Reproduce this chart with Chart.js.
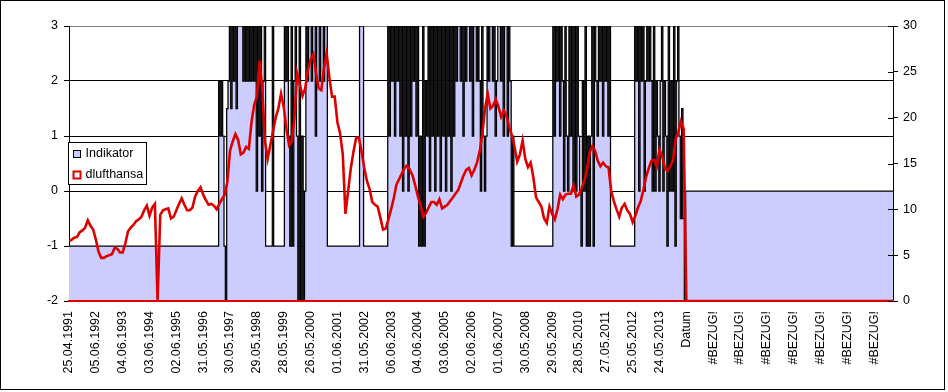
<!DOCTYPE html>
<html>
<head>
<meta charset="utf-8">
<script src="https://cdn.jsdelivr.net/npm/chart.js@4.4.1/dist/chart.umd.min.js"></script>
<style>
  html, body { margin: 0; padding: 0; background: #fff; }
  #wrap { width: 948px; height: 392px; }
</style>
</head>
<body>
<div id="wrap"><canvas id="chart" width="948" height="392"></canvas></div>
<script>
// Kategorie-Beschriftung (jede 10. Zeile)
const xLabels = [
  '25.04.1991', '05.06.1992', '04.06.1993', '03.06.1994', '02.06.1995', '31.05.1996',
  '30.05.1997', '29.05.1998', '28.05.1999', '26.05.2000', '01.06.2001', '31.05.2002',
  '06.06.2003', '04.06.2004', '03.06.2005', '02.06.2006', '01.06.2007', '30.05.2008',
  '29.05.2009', '28.05.2010', '27.05.2011', '25.05.2012', '24.05.2013', 'Datum',
  '#BEZUG!', '#BEZUG!', '#BEZUG!', '#BEZUG!', '#BEZUG!', '#BEZUG!', '#BEZUG!'
];

// Indikator (linke Achse), zwei Werte je Zeile
const indikator = [
  -1, -1, -1, -1, -1, -1, -1, -1, -1, -1,
  -1, -1, -1, -1, -1, -1, -1, -1, -1, -1,
  -1, -1, -1, -1, -1, -1, -1, -1, -1, -1,
  -1, -1, -1, -1, -1, -1, -1, -1, -1, -1,
  -1, -1, -1, -1, -1, -1, -1, -1, -1, -1,
  -1, -1, -1, -1, -1, -1, -1, -1, -1, -1,
  -1, -1, -1, -1, -1, -1, -1, -1, -1, -1,
  -1, -1, -1, -1, -1, -1, -1, -1, -1, -1,
  -1, -1, -1, -1, -1, -1, -1, -1, -1, -1,
  -1, -1, -1, -1, -1, -1, -1, -1, -1, -1,
  -1, -1, -1, -1, -1, -1, -1, -1, -1, -1,
  -1, -1, 2, 1, 2, 1, -1, -2, 1.5, 2,
  3, 1.5, 3, 2, 3, 1.5, 3, 3, 3, 3,
  2, 3, 2, 3, 2, 3, 2, 3, 2, 3,
  0, 3, 1, 3, 0, 2, 3, -1, -1, -1,
  -1, -1, 3, -1, -1, -1, -1, -1, -1, -1,
  -1, 3, 2, 3, 1, -1, 3, -1, 2, 3,
  1, -2, 3, -2, 1, -2, 0, 3, 2, 3,
  3, 2, 3, 3, 1, 3, 3, 2, 3, 3,
  2, 3, 3, -1, -1, -1, -1, -1, -1, -1,
  -1, -1, -1, -1, -1, -1, -1, -1, -1, -1,
  -1, -1, -1, -1, -1, -1, -1, 3, 3, 3,
  -1, -1, -1, -1, -1, -1, -1, -1, -1, -1,
  -1, -1, -1, -1, -1, -1, -1, -1, 3, 1,
  3, 2, 3, 1, 3, 2, 3, 1, 3, 0,
  3, 1, 3, 0, 3, 1, 3, 2, 3, 1,
  3, -1, 1, -1, 3, -1, 2, 1, 3, 0,
  3, 1, 3, 0, 3, 1, 3, 0, 3, 1,
  3, 0, 3, 1, 3, 0, 3, 1, 3, 2,
  3, 3, 2, 3, 1, 3, 2, 3, 3, 2,
  3, 1, 3, 3, 2, 3, 2, 0, 3, 1,
  0, 1, 3, 2, 3, 3, 2, 3, 1, 2,
  3, 3, 2, 3, 1, 3, 3, 1, 3, 2,
  -1, 1, -1, -1, -1, -1, -1, -1, -1, -1,
  -1, -1, -1, -1, -1, -1, -1, -1, -1, -1,
  -1, -1, -1, -1, -1, -1, -1, -1, -1, -1,
  -1, 3, 1, 3, 2, 3, 1, 3, 2, 0,
  3, 1, 0, 3, 1, 3, 0, 3, 0, 3,
  1, 0, -1, 2, 0, 3, -1, 1, -1, 1,
  3, -1, 3, 2, 1, 3, 2, 3, 1, 3,
  2, 3, 1, 3, -1, -1, -1, -1, -1, -1,
  -1, -1, -1, -1, -1, -1, -1, -1, -1, -1,
  -1, -1, 3, 2, 3, 0, 3, 2, 3, 0,
  2, 3, 2, 3, 2, 0, 3, 0, 2, 1,
  0, 2, 3, 0, 2, 1, -1, 3, 0, 2,
  0, 3, -1, 2, 3, 1, -0.5, 1.5, -0.5, -2,
  0, 0, 0, 0, 0, 0, 0, 0, 0, 0,
  0, 0, 0, 0, 0, 0, 0, 0, 0, 0,
  0, 0, 0, 0, 0, 0, 0, 0, 0, 0,
  0, 0, 0, 0, 0, 0, 0, 0, 0, 0,
  0, 0, 0, 0, 0, 0, 0, 0, 0, 0,
  0, 0, 0, 0, 0, 0, 0, 0, 0, 0,
  0, 0, 0, 0, 0, 0, 0, 0, 0, 0,
  0, 0, 0, 0, 0, 0, 0, 0, 0, 0,
  0, 0, 0, 0, 0, 0, 0, 0, 0, 0,
  0, 0, 0, 0, 0, 0, 0, 0, 0, 0,
  0, 0, 0, 0, 0, 0, 0, 0, 0, 0,
  0, 0, 0, 0, 0, 0, 0, 0, 0, 0,
  0, 0, 0, 0, 0, 0, 0, 0, 0, 0,
  0, 0, 0, 0, 0, 0, 0, 0, 0, 0,
  0, 0, 0, 0, 0, 0, 0, 0, 0, 0,
  0, 0, 0, 0, 0
];

// dlufthansa (rechte Achse), ein Wert je Zeile
const dlufthansa = [
  6.5, 6.7, 6.9, 7.0, 7.5, 7.7, 8.0, 8.8, 8.2, 7.8,
  6.7, 5.4, 4.7, 4.7, 4.9, 5.0, 5.1, 5.8, 5.7, 5.3,
  5.3, 6.3, 7.6, 8.0, 8.3, 8.7, 8.9, 9.2, 9.9, 10.4,
  9.3, 10.2, 10.6, 0, 9.4, 9.9, 10.0, 10.1, 9.0, 9.2,
  9.9, 10.6, 11.2, 10.5, 9.9, 9.9, 10.2, 11.4, 12.0, 12.4,
  11.6, 11.0, 10.5, 10.6, 10.4, 10.0, 10.6, 11.1, 11.6, 13.0,
  16.4, 17.4, 18.2, 17.6, 16.0, 16.2, 16.8, 16.6, 19.5, 21.4,
  22.3, 26.2, 23.2, 17.5, 15.5, 17.0, 18.5, 20.0, 21.0, 22.6,
  21.2, 18.8, 17.0, 17.4, 20.0, 24.8, 23.6, 22.4, 23.2, 25.2,
  26.3, 26.9, 25.0, 23.2, 23.0, 25.4, 27.0, 24.4, 22.3, 22.3,
  19.5, 18.3, 16.0, 9.5, 12.0, 14.5, 16.3, 17.8, 17.8, 16.3,
  14.5, 13.1, 12.2, 10.8, 10.5, 10.3, 9.1, 7.8, 7.9, 8.9,
  10.0, 11.2, 12.7, 13.3, 13.9, 14.5, 14.8, 14.3, 13.7, 12.6,
  11.4, 10.4, 9.2, 9.6, 10.2, 10.8, 10.8, 10.5, 11.1, 10.1,
  10.3, 10.5, 10.9, 11.3, 11.7, 12.1, 12.9, 13.7, 14.3, 14.5,
  13.7, 14.3, 15.1, 16.3, 18.2, 21.0, 22.6, 21.0, 21.3, 22.0,
  21.2, 20.1, 20.8, 20.2, 19.0, 18.1, 16.8, 15.2, 16.0, 17.5,
  15.5, 14.6, 15.1, 13.5, 11.3, 10.8, 10.3, 9.0, 8.5, 10.3,
  9.5, 8.9, 10.0, 11.6, 11.1, 11.6, 11.7, 11.7, 12.6, 11.4,
  11.6, 12.3, 13.1, 14.4, 16.2, 16.9, 16.4, 15.3, 14.7, 15.1,
  14.7, 14.6, 12.0, 10.9, 10.0, 9.2, 10.2, 10.6, 9.9, 9.5,
  8.6, 9.3, 10.2, 10.9, 12.1, 13.5, 14.5, 15.3, 15.4, 14.7,
  16.5, 15.8, 14.5, 14.2, 14.7, 15.3, 17.6, 18.4, 19.6, 18.8,
  0, 0, 0, 0, 0, 0, 0, 0, 0, 0,
  0, 0, 0, 0, 0, 0, 0, 0, 0, 0,
  0, 0, 0, 0, 0, 0, 0, 0, 0, 0,
  0, 0, 0, 0, 0, 0, 0, 0, 0, 0,
  0, 0, 0, 0, 0, 0, 0, 0, 0, 0,
  0, 0, 0, 0, 0, 0, 0, 0, 0, 0,
  0, 0, 0, 0, 0, 0, 0, 0, 0, 0,
  0, 0, 0, 0, 0, 0, 0, 0
];

const LABEL_STEP = 10;
const X_MAX = 307;
const RED = '#DD0000';
const LAVENDER = '#CCCCFF';
const FONT = { family: "'Liberation Sans', Arial, sans-serif", size: 12.5 };

// Datenpunkte auf der Zeilen-Achse
const rowPoints = arr => arr.map((v, i) => ({ x: i, y: v }));
const halfRowPoints = arr => arr.map((v, j) => ({ x: j / 2, y: v }));

// Hintergrund, Rahmen und innere Teilstriche der rechten Achse
const framePlugin = {
  id: 'frame',
  beforeDraw(chart) {
    const ctx = chart.ctx;
    ctx.save();
    ctx.fillStyle = '#fff';
    ctx.fillRect(0, 0, chart.width, chart.height);
    ctx.restore();
  },
  afterDraw(chart) {
    const ctx = chart.ctx;
    const ca = chart.chartArea;
    const y1 = chart.scales.y1;
    ctx.save();
    ctx.strokeStyle = '#000';
    ctx.lineWidth = 1;
    ctx.beginPath();
    y1.ticks.forEach(t => {
      const py = Math.round(y1.getPixelForValue(t.value)) + 0.5;
      ctx.moveTo(ca.right - 5, py);
      ctx.lineTo(ca.right, py);
    });
    ctx.stroke();
    ctx.strokeRect(0.5, 0.5, 944, 389);
    ctx.restore();
  }
};

// Legende im Diagramm (links, Mitte)
const legendPlugin = {
  id: 'boxLegend',
  afterDraw(chart) {
    const ctx = chart.ctx;
    const ca = chart.chartArea;
    const bx = ca.left - 0.5, by = 142.5, bw = 78, bh = 42;
    ctx.save();
    ctx.fillStyle = '#fff';
    ctx.fillRect(bx, by, bw, bh);
    ctx.strokeStyle = '#000';
    ctx.lineWidth = 1;
    ctx.strokeRect(bx, by, bw, bh);

    ctx.font = `${FONT.size}px ${FONT.family}`;
    ctx.textBaseline = 'middle';

    // Indikator
    ctx.fillStyle = LAVENDER;
    ctx.fillRect(bx + 5, by + 8, 7, 7);
    ctx.strokeStyle = '#000';
    ctx.strokeRect(bx + 5, by + 8, 7, 7);
    ctx.fillStyle = '#000';
    ctx.fillText('Indikator', bx + 17, by + 11.5);

    // dlufthansa
    ctx.fillStyle = '#fff';
    ctx.fillRect(bx + 5, by + 29, 7, 7);
    ctx.strokeStyle = RED;
    ctx.lineWidth = 2;
    ctx.strokeRect(bx + 5, by + 29, 7, 7);
    ctx.fillStyle = '#000';
    ctx.fillText('dlufthansa', bx + 17, by + 32.5);
    ctx.restore();
  }
};

new Chart(document.getElementById('chart'), {
  type: 'line',
  data: {
    datasets: [
      {
        label: 'dlufthansa',
        data: rowPoints(dlufthansa),
        yAxisID: 'y1',
        borderColor: RED,
        borderWidth: 2.6,
        pointRadius: 0,
        fill: false,
        tension: 0,
        order: 0
      },
      {
        label: 'Indikator',
        data: halfRowPoints(indikator),
        yAxisID: 'y',
        borderColor: '#000',
        borderWidth: 1.25,
        backgroundColor: LAVENDER,
        fill: 'start',
        stepped: 'middle',
        pointRadius: 0,
        order: 1
      }
    ]
  },
  options: {
    responsive: false,
    animation: false,
    devicePixelRatio: 1,
    layout: { padding: { top: 26, left: 0, right: 0, bottom: 0 } },
    plugins: {
      legend: { display: false },
      tooltip: { enabled: false }
    },
    scales: {
      x: {
        type: 'linear',
        min: 0,
        max: X_MAX,
        grid: { display: false, drawTicks: false },
        border: { color: RED, width: 2, z: 1 },
        ticks: {
          stepSize: LABEL_STEP,
          autoSkip: false,
          includeBounds: false,
          minRotation: 90,
          maxRotation: 90,
          padding: 10,
          color: '#000',
          font: FONT,
          callback: v => xLabels[v / LABEL_STEP]
        },
        afterFit: s => { s.height = 91; }
      },
      y: {
        position: 'left',
        min: -2,
        max: 3,
        ticks: { stepSize: 1, padding: 6, color: '#000', font: FONT },
        grid: {
          color: ctx => {
            const v = ctx.tick ? ctx.tick.value : null;
            if (v === 3) return '#808080';
            if (v === -2) return 'rgba(0,0,0,0)';
            return '#000';
          },
          tickColor: '#000',
          tickLength: 5
        },
        border: { color: '#000' },
        afterFit: s => { s.width = 69; }
      },
      y1: {
        position: 'right',
        min: 0,
        max: 30,
        ticks: { stepSize: 5, padding: 5, color: '#000', font: FONT },
        grid: { drawOnChartArea: false, tickLength: 5, color: '#000' },
        border: { color: '#000' },
        afterFit: s => { s.width = 55; }
      }
    }
  },
  plugins: [framePlugin, legendPlugin]
});
</script>
</body>
</html>
